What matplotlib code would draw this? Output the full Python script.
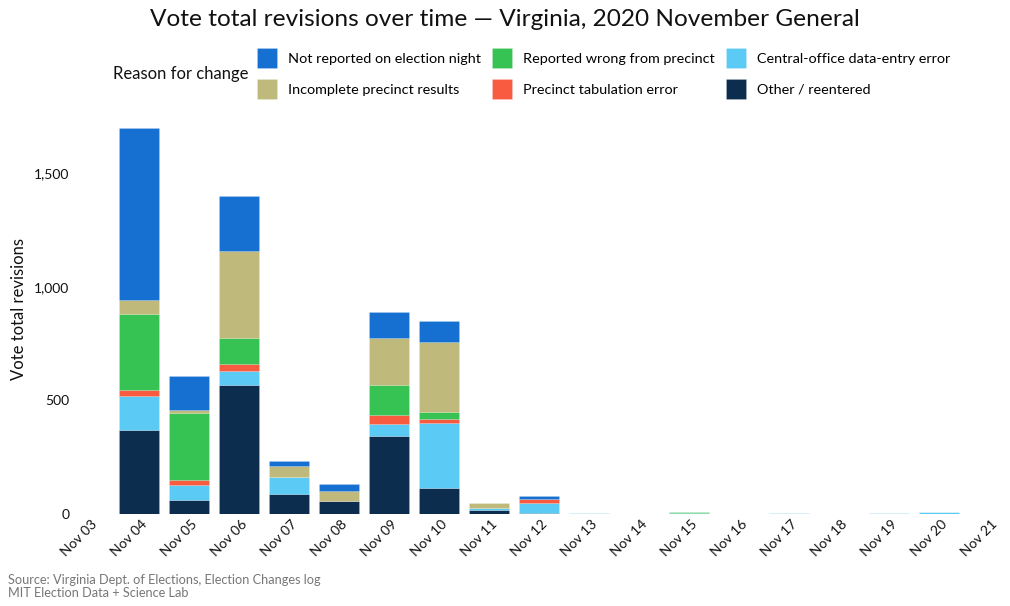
import matplotlib
matplotlib.use("Agg")
from matplotlib import pyplot as plt
from matplotlib.transforms import ScaledTranslation
import matplotlib.dates as mdates
import pandas as pd
import numpy as np

plt.rcParams['font.family'] = ['Lato', 'DejaVu Sans']

# one bar per day, Nov 04 .. Nov 20
days = pd.to_datetime(['2020-11-%02d' % d for d in range(4, 21)])

# vote revisions per reason
other_reentered = [371, 62, 569, 87, 56, 342, 114, 18, 5, 0, 0, 0, 0, 0, 0, 0, 0]
central_office  = [148, 67, 62, 74, 0, 55, 286, 8, 43, 5, 0, 3, 0, 5, 0, 4, 9]
precinct_tab    = [25, 21, 30, 0, 0, 39, 18, 0, 19, 0, 0, 0, 0, 0, 0, 0, 0]
reported_wrong  = [336, 296, 112, 0, 2, 132, 29, 0, 0, 0, 0, 4, 0, 0, 0, 0, 0]
incomplete      = [64, 13, 383, 50, 43, 206, 310, 22, 0, 0, 0, 0, 0, 0, 0, 0, 0]
not_reported    = [753, 149, 243, 22, 30, 115, 93, 0, 14, 0, 0, 0, 0, 0, 0, 0, 0]

series = [
    ('Other / reentered', other_reentered, '#0c2d4e'),
    ('Central-office data-entry error', central_office, '#5bcaf5'),
    ('Precinct tabulation error', precinct_tab, '#f95b41'),
    ('Reported wrong from precinct', reported_wrong, '#37c254'),
    ('Incomplete precinct results', incomplete, '#bfb97b'),
    ('Not reported on election night', not_reported, '#1570d1'),
]

fig = plt.figure(figsize=(10.1, 6.06), dpi=100)
ax = fig.add_axes([89/1010, 1 - 514/606, 900/1010, 409/606])

bottom = np.zeros(len(days))
handles = {}
for name, vals, color in series:
    vals = np.array(vals, dtype=float)
    b = ax.bar(days, vals, bottom=bottom, width=0.8, color=color,
               edgecolor=(1, 1, 1, 0.25), linewidth=0.4, label=name)
    handles[name] = b
    bottom += vals

ax.set_xlim(pd.Timestamp('2020-11-03'), pd.Timestamp('2020-11-21'))
ax.set_ylim(0, 1800)
ax.set_yticks([0, 500, 1000, 1500])
ax.yaxis.set_major_formatter(matplotlib.ticker.StrMethodFormatter('{x:,.0f}'))
ax.xaxis.set_major_locator(mdates.DayLocator())
ax.xaxis.set_major_formatter(mdates.DateFormatter('%b %d'))

for s in ax.spines.values():
    s.set_visible(False)
ax.tick_params(axis='both', length=0, labelsize=10, colors='#111111')
ax.tick_params(axis='y', pad=14)
ax.tick_params(axis='x', pad=6)

offset = ScaledTranslation(0.06, 0, fig.dpi_scale_trans)
for lab in ax.get_xticklabels():
    lab.set_rotation(45)
    lab.set_ha('right')
    lab.set_va('center')
    lab.set_rotation_mode('anchor')
    lab.set_transform(lab.get_transform() + offset)

ax.set_ylabel('Vote total revisions', fontsize=12, color='#111111')
ax.yaxis.set_label_coords(-(89 - 27) / 900, 0.5)

fig.text(0.5, 1 - 19/606, 'Vote total revisions over time \u2014 Virginia, 2020 November General',
         ha='center', va='center', fontsize=17.6, color='#111111')

order = ['Not reported on election night', 'Incomplete precinct results',
         'Reported wrong from precinct', 'Precinct tabulation error',
         'Central-office data-entry error', 'Other / reentered']
leg = fig.legend([handles[n] for n in order], order, ncol=3, frameon=False,
                 loc='upper left', bbox_to_anchor=(257/1010, 1 - 48/606),
                 borderpad=0, borderaxespad=0, fontsize=10.4,
                 handlelength=1.4, handleheight=1.8, handletextpad=0.75,
                 columnspacing=0.75, labelspacing=0.72)
for p in leg.get_patches():
    p.set_edgecolor((1, 1, 1, 0.3))
fig.text(113/1010, 1 - 74/606, 'Reason for change', ha='left', va='center',
         fontsize=12, color='#111111')

fig.text(8/1010, 1 - 580/606, 'Source: Virginia Dept. of Elections, Election Changes log',
         ha='left', va='center', fontsize=9.2, color='#777777')
fig.text(8/1010, 1 - 593/606, 'MIT Election Data + Science Lab',
         ha='left', va='center', fontsize=9.2, color='#777777')

fig.savefig('out.png', dpi=100)
